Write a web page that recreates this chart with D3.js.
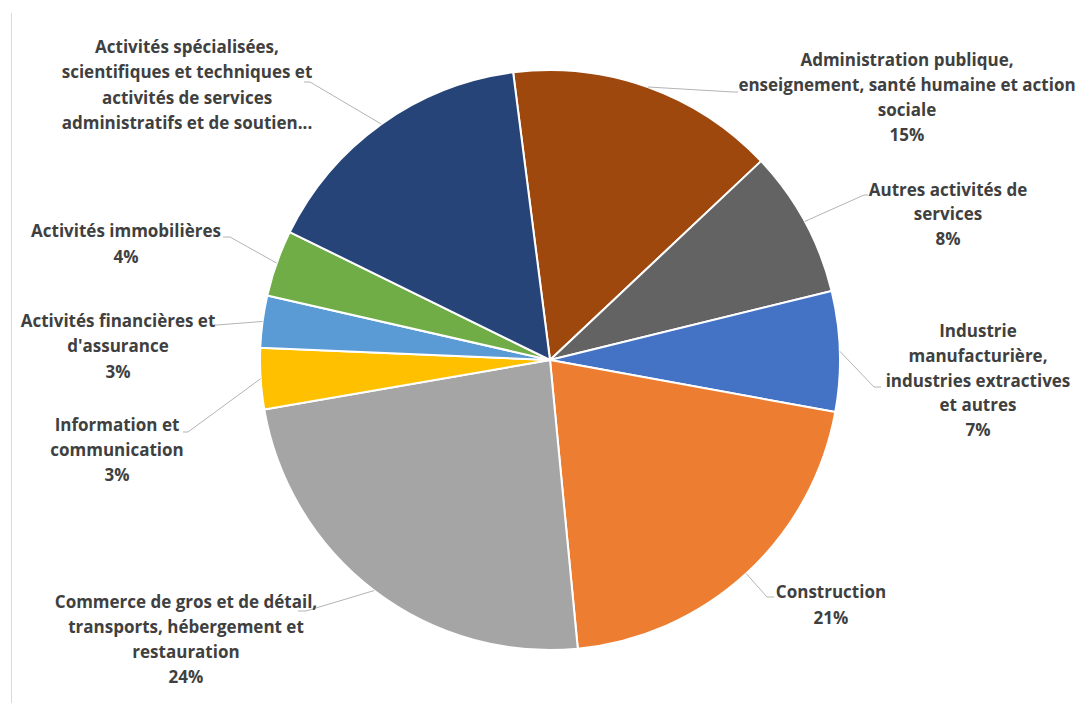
<!DOCTYPE html>
<html>
<head>
<meta charset="utf-8">
<script src="https://cdn.jsdelivr.net/npm/d3@7"></script>
<style>
  html, body { margin: 0; padding: 0; background: #fff; }
  svg { display: block; }
  text { font-family: "Open Sans", sans-serif; font-weight: bold; fill: #404040; }
</style>
</head>
<body>
<svg id="chart" width="1076" height="703"></svg>
<script>
// ---- data ----
const categories = [
  "Administration publique, enseignement, santé humaine et action sociale",
  "Autres activités de services",
  "Industrie manufacturière, industries extractives et autres",
  "Construction",
  "Commerce de gros et de détail, transports, hébergement et restauration",
  "Information et communication",
  "Activités financières et d'assurance",
  "Activités immobilières",
  "Activités spécialisées, scientifiques et techniques et activités de services administratifs et de soutien"
];
const values = [15.0, 8.2, 6.7, 20.6, 23.8, 3.4, 2.9, 3.7, 15.7];
const labelLines = [
  ["Administration publique,", "enseignement, santé humaine et action", "sociale"],
  ["Autres activités de", "services"],
  ["Industrie", "manufacturière,", "industries extractives", "et autres"],
  ["Construction"],
  ["Commerce de gros et de détail,", "transports, hébergement et", "restauration"],
  ["Information et", "communication"],
  ["Activités financières et", "d'assurance"],
  ["Activités immobilières"],
  ["Activités spécialisées,", "scientifiques et techniques et", "activités de services", "administratifs et de soutien..."]
];
const showPercent = [true, true, true, true, true, true, true, true, false];
const colors = ["#9E480E", "#636363", "#4472C4", "#ED7D31", "#A5A5A5", "#FFC000", "#5B9BD5", "#70AD47", "#264478"];

// ---- layout ----
const cx = 550, cy = 360, R = 290;
const startDeg = -7.3;
const labelLayout = [
  {x: 907, y: 60, gap: 25, lx: 733, ly: 92, hx: 738},
  {x: 948, y: 190, gap: 24.5, lx: 864, ly: 195, hx: 868},
  {x: 978, y: 331, gap: 24.8, lx: 874, ly: 387, hx: 881},
  {x: 831, y: 592, gap: 26, lx: 767, ly: 597, hx: 774},
  {x: 186, y: 602, gap: 25, lx: 306, ly: 611, hx: 298},
  {x: 117, y: 425, gap: 25, lx: 188, ly: 432, hx: 183},
  {x: 118, y: 321, gap: 25.5, lx: 217, ly: 325, hx: 215},
  {x: 126, y: 231, gap: 26, lx: 230, ly: 237, hx: 223},
  {x: 187, y: 47, gap: 25.5, lx: 310, ly: 82, hx: 304}
];

const svg = d3.select("#chart");

svg.append("line").attr("x1", 11.5).attr("x2", 11.5).attr("y1", 13).attr("y2", 703)
  .attr("stroke", "#d9d9d9").attr("stroke-width", 1);

const pie = d3.pie().sort(null).value(d => d)
  .startAngle(startDeg * Math.PI / 180)
  .endAngle(startDeg * Math.PI / 180 + 2 * Math.PI);
const arcs = pie(values);
const arc = d3.arc().innerRadius(0).outerRadius(R);

const g = svg.append("g").attr("transform", `translate(${cx},${cy})`);
g.selectAll("path").data(arcs).enter().append("path")
  .attr("d", arc)
  .attr("fill", (d, i) => colors[i])
  .attr("stroke", "#fff").attr("stroke-width", 2).attr("stroke-linejoin", "round");

arcs.forEach((d, i) => {
  const a = (d.startAngle + d.endAngle) / 2;
  const px = cx + R * Math.sin(a), py = cy - R * Math.cos(a);
  const L = labelLayout[i];
  svg.append("polyline")
    .attr("points", `${px},${py} ${L.lx},${L.ly} ${L.hx},${L.ly}`)
    .attr("fill", "none").attr("stroke", "#b4b4b4").attr("stroke-width", 1);
});

arcs.forEach((d, i) => {
  const L = labelLayout[i];
  const lines = labelLines[i].slice();
  if (showPercent[i]) lines.push(Math.round(values[i]) + "%");
  const t = svg.append("text").attr("text-anchor", "middle").style("font-size", "17px");
  lines.forEach((s, k) => {
    t.append("tspan").attr("x", L.x).attr("y", L.y + k * L.gap).attr("dy", "0.35em").text(s);
  });
});
</script>
</body>
</html>
